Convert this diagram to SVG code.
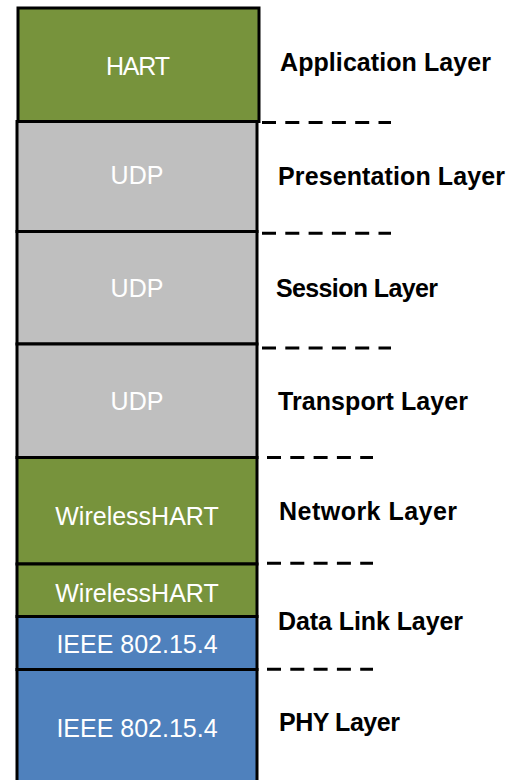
<svg xmlns="http://www.w3.org/2000/svg" width="508" height="780" viewBox="0 0 508 780">
  <style>
    .box { stroke: #000; stroke-width: 3; }
    .green { fill: #77933C; }
    .gray { fill: #BFBFBF; }
    .blue { fill: #4F81BD; }
    .btxt { font-family: "Liberation Sans", Arial, sans-serif; font-size: 25px; fill: #fff; text-anchor: middle; }
    .lbl { font-family: "Liberation Sans", Arial, sans-serif; font-size: 25px; font-weight: bold; fill: #000; }
    .sep { stroke: #000; stroke-width: 3; stroke-dasharray: 14 9.3; fill: none; }
  </style>
  <rect width="508" height="780" fill="#fff"/>

  <!-- protocol stack -->
  <g id="app-hart">
    <rect class="box green" x="18" y="8" width="241" height="113.5"/>
    <text class="btxt" x="138" y="75" textLength="64">HART</text>
  </g>
  <g id="pres-udp">
    <rect class="box gray" x="17" y="121.5" width="240" height="110"/>
    <text class="btxt" x="137" y="184">UDP</text>
  </g>
  <g id="sess-udp">
    <rect class="box gray" x="17" y="231.5" width="240" height="112.5"/>
    <text class="btxt" x="137" y="297">UDP</text>
  </g>
  <g id="trans-udp">
    <rect class="box gray" x="17" y="344" width="240" height="113.5"/>
    <text class="btxt" x="137" y="410">UDP</text>
  </g>
  <g id="net-whart">
    <rect class="box green" x="17" y="457.5" width="240" height="106.5"/>
    <text class="btxt" x="137" y="525">WirelessHART</text>
  </g>
  <g id="dll-whart">
    <rect class="box green" x="17" y="564" width="240" height="52.5"/>
    <text class="btxt" x="137" y="602">WirelessHART</text>
  </g>
  <g id="dll-ieee">
    <rect class="box blue" x="17" y="616.5" width="240" height="53"/>
    <text class="btxt" x="137" y="653">IEEE 802.15.4</text>
  </g>
  <g id="phy-ieee">
    <rect class="box blue" x="17" y="669.5" width="240" height="120"/>
    <text class="btxt" x="137" y="737">IEEE 802.15.4</text>
  </g>

  <!-- layer separators -->
  <g id="separators">
    <line class="sep" x1="262" y1="122.5" x2="391" y2="122.5"/>
    <line class="sep" x1="262" y1="233.3" x2="391" y2="233.3"/>
    <line class="sep" x1="262" y1="348" x2="391" y2="348"/>
    <line class="sep" x1="267" y1="457.5" x2="373" y2="457.5"/>
    <line class="sep" x1="267" y1="563.3" x2="373" y2="563.3"/>
    <line class="sep" x1="267" y1="669.3" x2="373" y2="669.3"/>
  </g>

  <!-- OSI layer names -->
  <g id="layer-labels">
    <text class="lbl" x="280" y="71" textLength="211">Application Layer</text>
    <text class="lbl" x="278" y="185" textLength="227">Presentation Layer</text>
    <text class="lbl" x="276" y="297" textLength="162">Session Layer</text>
    <text class="lbl" x="278" y="410" textLength="190">Transport Layer</text>
    <text class="lbl" x="279" y="520" textLength="178">Network Layer</text>
    <text class="lbl" x="278" y="630" textLength="185">Data Link Layer</text>
    <text class="lbl" x="279" y="731" textLength="121">PHY Layer</text>
  </g>
</svg>
